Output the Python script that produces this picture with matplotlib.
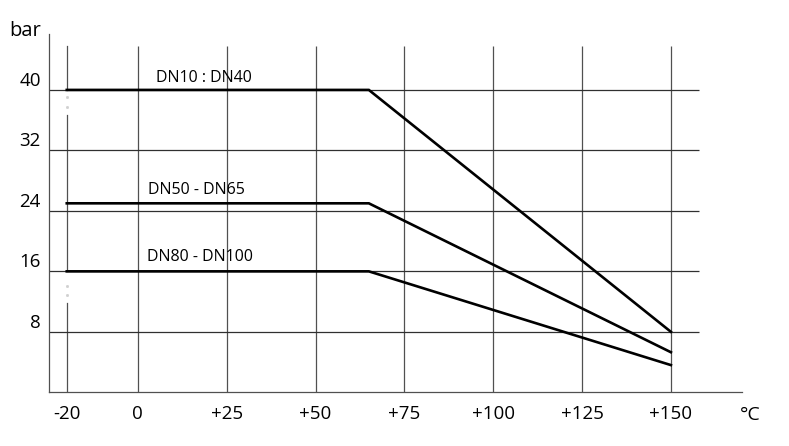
import matplotlib.pyplot as plt

plt.rcParams['font.family'] = ['Open Sans', 'DejaVu Sans']

# pressure / temperature ratings
temps = [-20, 65, 150]
dn10_40 = [40, 40, 8]
dn50_65 = [25, 25, 5.3]
dn80_100 = [16, 16, 3.6]
series = [("DN10 : DN40", dn10_40), ("DN50 - DN65", dn50_65), ("DN80 - DN100", dn80_100)]

xticks = [-20, 0, 25, 50, 75, 100, 125, 150]
xlabels = ["-20", "0", "+25", "+50", "+75", "+100", "+125", "+150"]
yticks = [8, 16, 24, 32, 40]

fig = plt.figure(figsize=(7.89, 4.46), dpi=100)
ax = fig.add_axes([0.0621, 0.1204, 0.8783, 0.8034])
ax.set_xlim(-25, 170)
ax.set_ylim(0, 47.4)

grid_col = "#505050"
# grid (the -20 line has small gaps near 40 and 16 bar)
ax.vlines(xticks[1:], 0, 45.8, color=grid_col, lw=0.9, zorder=1)
for y0, y1 in [(0, 11.8), (16, 36.7), (40, 45.8)]:
    ax.plot([-20, -20], [y0, y1], color=grid_col, lw=0.9, zorder=1)
ax.plot([-20] * 4, [39.0, 37.8, 14.0, 12.9], ls="none", marker="s", ms=1.0,
        color="#d0d0d0", zorder=1)
ax.hlines(yticks, -25, 158, color="#303030", lw=0.9, zorder=1)

for name, vals in series:
    ax.plot(temps, vals, color="black", lw=1.9, zorder=3, solid_joinstyle="miter")

# curve labels
ax.text(5.2, 41.1, series[0][0], fontsize=11.5, va="baseline")
ax.text(2.9, 26.2, series[1][0], fontsize=11.5, va="baseline")
ax.text(2.6, 17.4, series[2][0], fontsize=11.5, va="baseline")

for s in ["top", "right"]:
    ax.spines[s].set_visible(False)
for s in ["left", "bottom"]:
    ax.spines[s].set_color(grid_col)
    ax.spines[s].set_linewidth(0.9)

ax.set_xticks(xticks, xlabels)
ax.set_yticks(yticks, [str(v) for v in yticks])
ax.tick_params(length=0, labelsize=13.5)
ax.tick_params(axis="x", pad=9)
ax.tick_params(axis="y", pad=6)
for lbl in ax.get_yticklabels():
    lbl.set_va("bottom")

fig.text(9 / 789, 1 - 36 / 446, "bar", fontsize=14.5, va="baseline")
fig.text(740 / 789, 1 - 420 / 446, "°C", fontsize=14, va="baseline")

fig.savefig("out.png", dpi=100, facecolor="white")
